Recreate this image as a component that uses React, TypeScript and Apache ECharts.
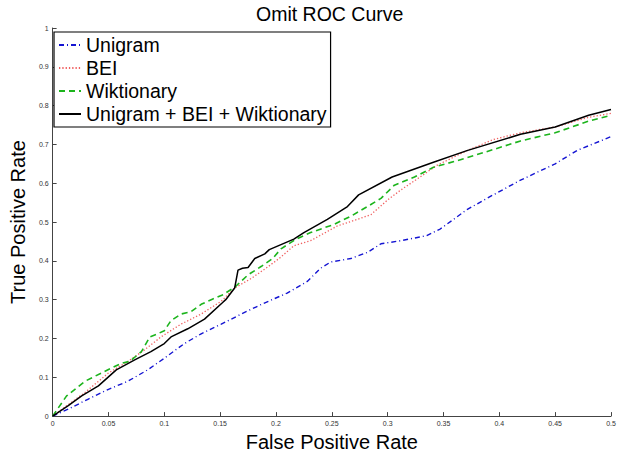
import React, { useEffect, useRef } from "react";
import * as echarts from "echarts";

const seriesNames = ["Unigram", "BEI", "Wiktionary", "Unigram + BEI + Wiktionary"];

const xTicks = [0, 0.05, 0.1, 0.15, 0.2, 0.25, 0.3, 0.35, 0.4, 0.45, 0.5];
const yTicks = [0, 0.1, 0.2, 0.3, 0.4, 0.5, 0.6, 0.7, 0.8, 0.9, 1];

const unigramFpr = [0, 0.014, 0.032, 0.05, 0.0675, 0.085, 0.1, 0.118, 0.133, 0.151, 0.169, 0.187, 0.21, 0.228, 0.24, 0.249, 0.267, 0.282, 0.294, 0.312, 0.335, 0.347, 0.371, 0.392, 0.419, 0.45, 0.47, 0.5];
const unigramTpr = [0, 0.018, 0.044, 0.069, 0.09, 0.119, 0.149, 0.187, 0.212, 0.237, 0.263, 0.288, 0.317, 0.347, 0.381, 0.397, 0.406, 0.422, 0.444, 0.452, 0.465, 0.482, 0.532, 0.566, 0.608, 0.65, 0.685, 0.72];

const beiFpr = [0, 0.029, 0.05, 0.0675, 0.082, 0.097, 0.115, 0.133, 0.151, 0.163, 0.178, 0.193, 0.2045, 0.216, 0.231, 0.255, 0.273, 0.285, 0.3, 0.312, 0.329, 0.344, 0.371, 0.395, 0.419, 0.45, 0.48, 0.5];
const beiTpr = [0, 0.061, 0.111, 0.141, 0.17, 0.204, 0.237, 0.263, 0.296, 0.33, 0.355, 0.385, 0.41, 0.439, 0.452, 0.49, 0.507, 0.519, 0.557, 0.583, 0.616, 0.646, 0.684, 0.713, 0.73, 0.745, 0.77, 0.78];

const wikiFpr = [0, 0.0125, 0.029, 0.05, 0.0616, 0.069, 0.0795, 0.087, 0.094, 0.1, 0.106, 0.115, 0.124, 0.133, 0.142, 0.152, 0.163, 0.175, 0.187, 0.197, 0.2045, 0.218, 0.231, 0.252, 0.267, 0.282, 0.294, 0.306, 0.324, 0.341, 0.362, 0.386, 0.419, 0.45, 0.48, 0.5];
const wikiTpr = [0, 0.052, 0.09, 0.12, 0.136, 0.141, 0.166, 0.204, 0.212, 0.22, 0.246, 0.263, 0.269, 0.288, 0.3, 0.312, 0.332, 0.364, 0.386, 0.406, 0.431, 0.456, 0.473, 0.494, 0.515, 0.54, 0.561, 0.595, 0.616, 0.641, 0.658, 0.679, 0.709, 0.73, 0.76, 0.775];

const comboFpr = [0, 0.014, 0.026, 0.041, 0.057, 0.0735, 0.088, 0.1, 0.106, 0.121, 0.136, 0.152, 0.155, 0.163, 0.166, 0.17, 0.175, 0.181, 0.19, 0.194, 0.216, 0.225, 0.246, 0.264, 0.274, 0.304, 0.341, 0.371, 0.419, 0.45, 0.48, 0.5];
const comboTpr = [0, 0.027, 0.052, 0.078, 0.119, 0.145, 0.166, 0.187, 0.204, 0.225, 0.25, 0.292, 0.3, 0.33, 0.376, 0.381, 0.383, 0.406, 0.418, 0.429, 0.456, 0.473, 0.507, 0.54, 0.57, 0.616, 0.654, 0.684, 0.726, 0.745, 0.775, 0.79];

const zip = (xs: number[], ys: number[]) => xs.map((x, i) => [x, ys[i]]);

const FONT = "Liberation Sans, Arial, Helvetica, sans-serif";

export default function App() {
  const ref = useRef<HTMLDivElement>(null);
  useEffect(() => {
    if (!ref.current) return;
    const chart = echarts.init(ref.current, undefined, { renderer: "svg" });
    chart.setOption({
      animation: false,
      backgroundColor: "#ffffff",
      title: {
        text: "Omit ROC Curve",
        left: 256,
        top: 4,
        padding: 0,
        textStyle: { fontFamily: FONT, fontSize: 19.5, fontWeight: "normal", color: "#000" },
      },
      legend: {
        orient: "vertical",
        left: 54,
        top: 32,
        padding: [2, 4, 2, 4],
        itemGap: 1,
        itemWidth: 22,
        itemHeight: 14,
        borderColor: "#000",
        borderWidth: 1.2,
        backgroundColor: "#fff",
        data: seriesNames,
        itemStyle: { opacity: 0 },
        textStyle: { fontFamily: FONT, fontSize: 19.5, color: "#000", lineHeight: 22 },
      },
      grid: { left: 51, right: 15, top: 28, bottom: 33, containLabel: false },
      xAxis: {
        type: "value",
        min: xTicks[0],
        max: xTicks[xTicks.length - 1],
        interval: 0.05,
        name: "False Positive Rate",
        nameLocation: "middle",
        nameGap: 11,
        nameTextStyle: { fontFamily: FONT, fontSize: 20, color: "#000" },
        axisLine: { show: true, lineStyle: { color: "#444", width: 1 } },
        axisTick: { show: true, inside: true, length: 4, lineStyle: { color: "#444" } },
        axisLabel: { fontFamily: FONT, fontSize: 7, color: "#333", margin: 4 },
        splitLine: { show: false },
      },
      yAxis: {
        type: "value",
        min: yTicks[0],
        max: yTicks[yTicks.length - 1],
        interval: 0.1,
        name: "True Positive Rate",
        nameLocation: "middle",
        nameGap: 18.5,
        nameTextStyle: { fontFamily: FONT, fontSize: 20, color: "#000" },
        axisLine: { show: true, lineStyle: { color: "#444", width: 1 } },
        axisTick: { show: true, inside: true, length: 4, lineStyle: { color: "#444" } },
        axisLabel: { fontFamily: FONT, fontSize: 7, color: "#333", margin: 4 },
        splitLine: { show: false },
      },
      series: [
        {
          name: seriesNames[0],
          type: "line",
          symbol: "none",
          data: zip(unigramFpr, unigramTpr),
          lineStyle: { color: "#1414d2", width: 1.4, type: [5, 3, 1, 3] },
          itemStyle: { color: "#1414d2" },
          z: 2,
        },
        {
          name: seriesNames[1],
          type: "line",
          symbol: "none",
          data: zip(beiFpr, beiTpr),
          lineStyle: { color: "#f06060", width: 1.3, type: [1.3, 2] },
          itemStyle: { color: "#f06060" },
          z: 3,
        },
        {
          name: seriesNames[2],
          type: "line",
          symbol: "none",
          data: zip(wikiFpr, wikiTpr),
          lineStyle: { color: "#1cb41c", width: 1.6, type: [6, 4] },
          itemStyle: { color: "#1cb41c" },
          z: 4,
        },
        {
          name: seriesNames[3],
          type: "line",
          symbol: "none",
          data: zip(comboFpr, comboTpr),
          lineStyle: { color: "#000", width: 1.5, type: "solid" },
          itemStyle: { color: "#000" },
          z: 5,
        },
      ],
    });
    return () => chart.dispose();
  }, []);
  return (
    <div
      ref={ref}
      style={{ position: "fixed", left: 0, top: 0, width: 626, height: 457, background: "#fff" }}
    />
  );
}
